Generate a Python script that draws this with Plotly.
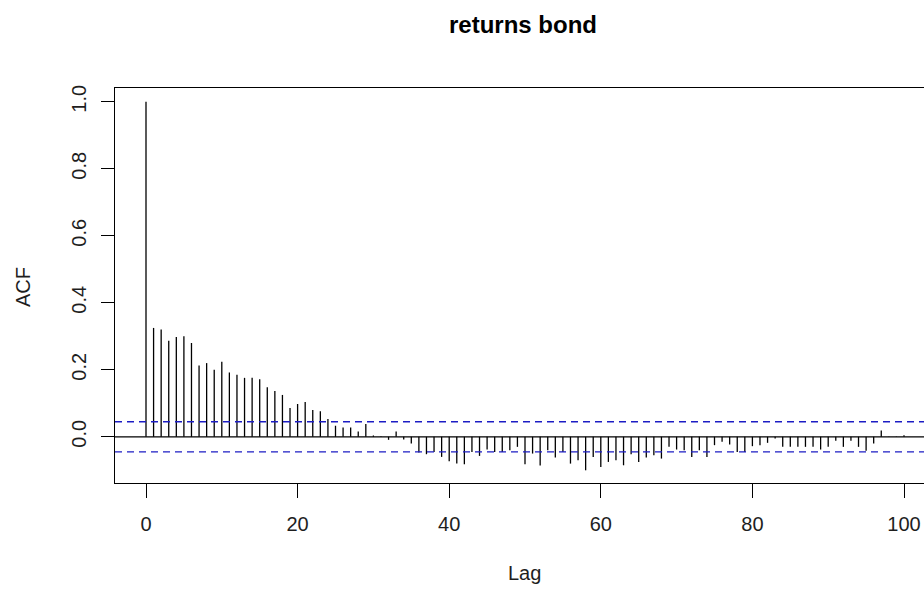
import plotly.graph_objects as go

# ACF values (lags 0..100)
lags = list(range(0, 101))
acf = [
    1.000, 0.325, 0.320, 0.287, 0.298, 0.300, 0.280, 0.213, 0.220, 0.200,   # 0-9
    0.224, 0.192, 0.185, 0.176, 0.176, 0.172, 0.148, 0.137, 0.125, 0.086,   # 10-19
    0.098, 0.104, 0.080, 0.076, 0.053, 0.033, 0.028, 0.028, 0.016, 0.038,   # 20-29
    0.004, 0.002, -0.009, 0.016, -0.008, -0.020, -0.047, -0.052, -0.045, -0.060,  # 30-39
    -0.073, -0.080, -0.082, -0.045, -0.057, -0.038, -0.045, -0.045, -0.040, -0.030,  # 40-49
    -0.082, -0.050, -0.086, -0.040, -0.062, -0.045, -0.080, -0.070, -0.100, -0.060,  # 50-59
    -0.090, -0.075, -0.070, -0.085, -0.052, -0.075, -0.062, -0.055, -0.065, -0.030,  # 60-69
    -0.038, -0.040, -0.060, -0.040, -0.060, -0.025, -0.015, -0.023, -0.045, -0.045,  # 70-79
    -0.028, -0.025, -0.018, -0.005, -0.030, -0.030, -0.030, -0.030, -0.030, -0.038,  # 80-89
    -0.030, -0.012, -0.030, -0.012, -0.030, -0.042, -0.020, 0.019, 0.001, 0.001,  # 90-99
    0.005,                                                                    # 100
]
ci = 0.045
x_ticks = [0, 20, 40, 60, 80, 100]
y_ticks = [0.0, 0.2, 0.4, 0.6, 0.8, 1.0]
title_text = "returns bond"
x_label = "Lag"
y_label = "ACF"

# vertical spikes built from the data arrays
seg_x, seg_y = [], []
for L, v in zip(lags, acf):
    seg_x += [L, L, None]
    seg_y += [0, v, None]

FONT = "Liberation Sans, Arial, sans-serif"
TXT = "#1e1e1e"

fig = go.Figure()
fig.add_trace(go.Scatter(x=seg_x, y=seg_y, mode="lines",
                         line=dict(color="black", width=1.3),
                         hoverinfo="skip", showlegend=False))

W, H = 924, 596
ml, mr, mt, mb = 115, 0, 88, 113
pw, ph = W - ml - mr, H - mt - mb


def px(xp):
    return (xp - ml) / pw


def py(yp):
    return (H - mb - yp) / ph


BLUE = "#1c1cc4"
shapes = [
    dict(type="line", xref="paper", yref="y", x0=0, x1=1, y0=0, y1=0,
         line=dict(color="black", width=1.3)),
    dict(type="line", xref="paper", yref="y", x0=0, x1=1, y0=ci, y1=ci,
         line=dict(color=BLUE, width=1.3, dash="7px,5px")),
    dict(type="line", xref="paper", yref="y", x0=0, x1=1, y0=-ci, y1=-ci,
         line=dict(color=BLUE, width=1.3, dash="7px,5px")),
]

annotations = [
    dict(text="<b>" + title_text + "</b>", xref="paper", yref="paper",
         x=px(523), y=py(24), showarrow=False, xanchor="center", yanchor="middle",
         font=dict(family=FONT, size=24, color="black")),
    dict(text=x_label, xref="paper", yref="paper",
         x=px(524), y=py(573), showarrow=False, xanchor="center", yanchor="middle",
         font=dict(family=FONT, size=20, color=TXT)),
    dict(text=y_label, xref="paper", yref="paper",
         x=px(23), y=py(287), showarrow=False, xanchor="center", yanchor="middle",
         textangle=-90, font=dict(family=FONT, size=20, color=TXT)),
]

zero_px = 436.8
scale = 335.0
fig.update_layout(
    width=W, height=H,
    margin=dict(l=ml, r=mr, t=mt, b=mb, pad=0),
    paper_bgcolor="white", plot_bgcolor="white",
    shapes=shapes, annotations=annotations,
    showlegend=False,
    font=dict(family=FONT, color=TXT),
    xaxis=dict(
        range=[(ml - 146) / 7.58, (W - 146) / 7.58],
        tickmode="array", tickvals=x_ticks, ticktext=[str(t) for t in x_ticks],
        ticks="outside", ticklen=14, tickwidth=1.3, tickcolor="black",
        showline=True, linecolor="black", linewidth=1.3, mirror=True,
        showgrid=False, zeroline=False,
        tickfont=dict(family=FONT, size=20, color=TXT),
        ticklabelstandoff=9,
    ),
    yaxis=dict(
        range=[(zero_px - (H - mb)) / scale, (zero_px - mt) / scale],
        tickmode="array", tickvals=y_ticks, ticktext=[f"{t:.1f}" for t in y_ticks],
        ticks="outside", ticklen=13, tickwidth=1.3, tickcolor="black",
        showline=True, linecolor="black", linewidth=1.3, mirror=False,
        showgrid=False, zeroline=False, tickangle=-90,
        tickfont=dict(family=FONT, size=20, color=TXT),
        ticklabelstandoff=7,
    ),
)

fig.write_html("out.html")
